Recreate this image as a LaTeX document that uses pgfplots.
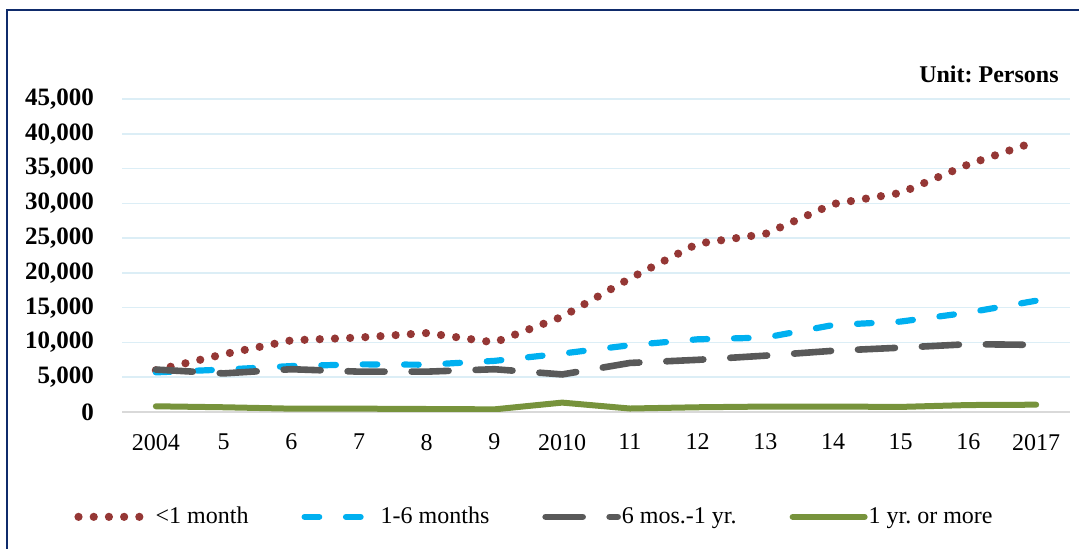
\documentclass[border=0pt]{standalone}
\usepackage{fontspec}
\setmainfont{Liberation Serif}
\usepackage{pgfplots}
\pgfplotsset{compat=1.18}
\definecolor{redd}{HTML}{953735}
\definecolor{bluel}{HTML}{00B0F0}
\definecolor{grayd}{HTML}{595959}
\definecolor{greenl}{HTML}{77933C}
\definecolor{framec}{HTML}{0F2B6B}
\definecolor{gridc}{HTML}{DCEEF6}
\frenchspacing
\begin{document}
\begin{tikzpicture}
\clip (0,0) rectangle (539.5pt,274.5pt);
\draw[framec, line width=1pt] (3.5pt,-5pt) rectangle (545pt,269.5pt);
\begin{axis}[
  at={(61pt,68.5pt)}, anchor=south west, scale only axis,
  width=474pt, height=156.5pt,
  xmin=-0.5, xmax=13.5, ymin=0, ymax=45000,
  xtick={0,...,13},
  xticklabels={2004,5,6,7,8,9,2010,11,12,13,14,15,16,2017},
  ytick={5000,10000,...,45000},
  extra y ticks={0},
  extra y tick style={grid style={color=black!15, line width=1pt}},
  axis line style={draw=none}, tick style={draw=none},
  ymajorgrids, grid style={color=gridc, line width=0.75pt},
  font=\fontsize{12}{14}\selectfont,
  yticklabel style={font=\fontsize{12.5}{14}\selectfont\bfseries, xshift=-10.5pt},
  xticklabel style={yshift=-7.5pt},
  scaled y ticks=false,
  /pgf/number format/1000 sep={,},
  /pgf/number format/assume math mode=true,
  legend columns=4,
  legend cell align=left,
  legend style={at={(-0.0506,-0.335)}, anchor=west, draw=none, fill=none,
    inner xsep=0pt, font=\fontsize{12}{14}\selectfont,
    /tikz/every odd column/.append style={column sep=-1.5pt},
    /tikz/every even column/.append style={column sep=24.5pt}},
  legend image code/.code={\draw[#1] (0pt,0pt) -- (36pt,0pt);},
]
\addplot[redd, line width=4.1pt, line cap=round, dash pattern=on 0pt off 7.6pt]
  coordinates {(0,6000) (1,8300) (2,10300) (3,10700) (4,11350) (5,10000) (6,13700) (7,19200) (8,24200) (9,25600) (10,29900) (11,31500) (12,35600) (13,38900)};
\addlegendentry{<1 month}
\addplot[bluel, line width=3.1pt, line cap=round, dash pattern=on 7.3pt off 13.4pt]
  coordinates {(0,5700) (1,6100) (2,6600) (3,6850) (4,6800) (5,7350) (6,8400) (7,9600) (8,10450) (9,10700) (10,12500) (11,13000) (12,14300) (13,16000)};
\addlegendentry{1-6 months}
\addplot[grayd, line width=3.3pt, line cap=round, dash pattern=on 18.5pt off 13.5pt]
  coordinates {(0,6100) (1,5550) (2,6150) (3,5800) (4,5800) (5,6150) (6,5400) (7,7050) (8,7500) (9,8100) (10,8800) (11,9250) (12,9750) (13,9650)};
\addlegendentry{6 mos.-1 yr.}
\addplot[greenl, line width=3pt, line cap=round]
  coordinates {(0,820) (1,680) (2,480) (3,480) (4,430) (5,380) (6,1350) (7,500) (8,680) (9,780) (10,780) (11,730) (12,1000) (13,1050)};
\addlegendentry{1 yr. or more}
\end{axis}
\node[anchor=base east, font=\fontsize{12}{14}\selectfont\bfseries, inner sep=0pt] at (529.5pt,233pt) {Unit: Persons};
\end{tikzpicture}
\end{document}
